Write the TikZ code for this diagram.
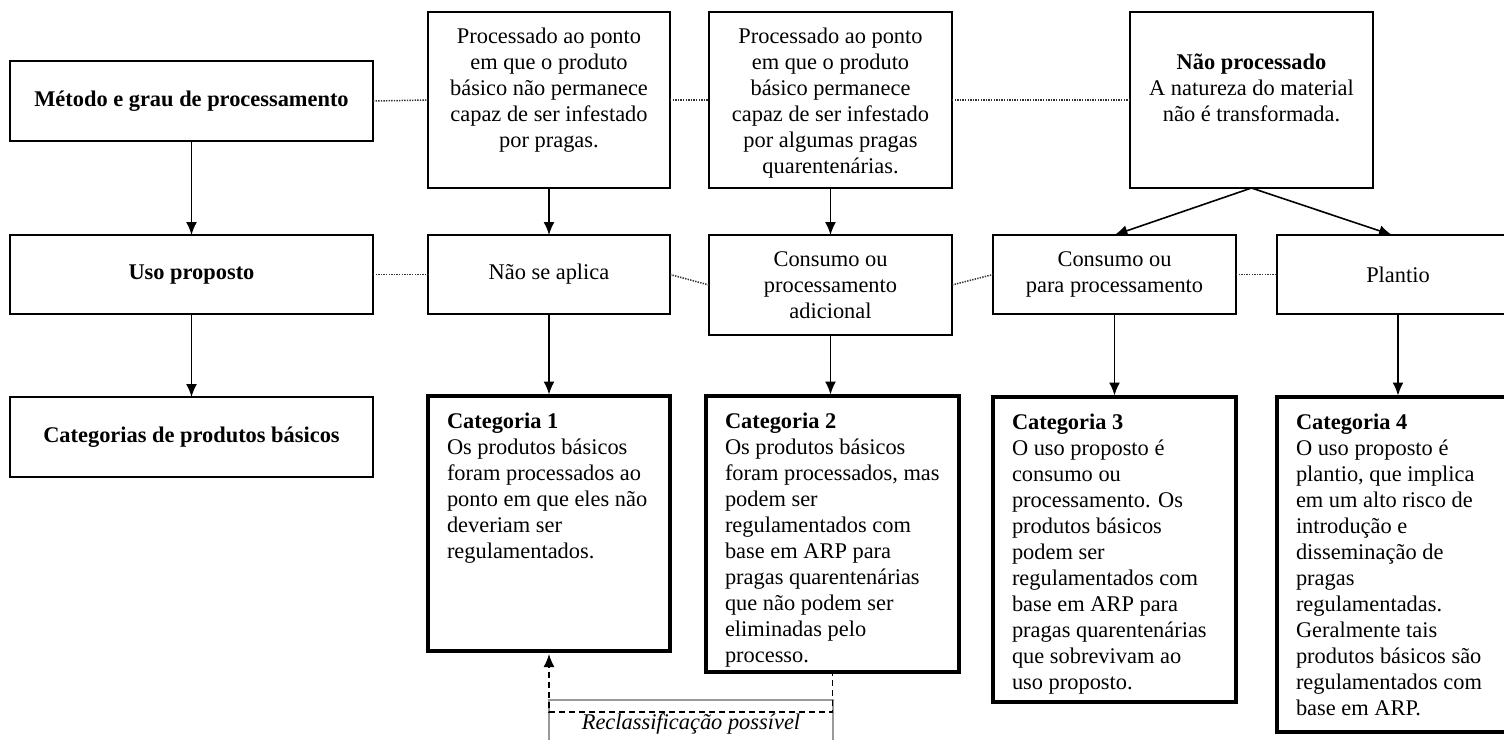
\documentclass[tikz,border=0pt]{standalone}
\usepackage{fontspec}
\setmainfont{Liberation Serif}
\usetikzlibrary{arrows.meta}
\newcommand{\cbx}[3]{\begin{minipage}[c][#2][c]{#1}\centering #3\end{minipage}}
\newcommand{\tbx}[4]{\begin{minipage}[t][#2][t]{#1}\vspace*{#3}\centering\strut #4\end{minipage}}
\newcommand{\kbx}[3]{\begin{minipage}[t][#2][t]{#1}\vspace*{14.3pt}\raggedright\leftskip=19pt\strut #3\end{minipage}}
\tikzset{
  box/.style={draw, line width=1.6pt, inner sep=0pt, outer sep=0pt, anchor=north west,
    font=\fontsize{22.4}{26}\selectfont},
  catbox/.style={box, line width=4pt},
  rcbox/.style={box, draw=black!40, line width=1.5pt},
  arr/.style={line width=1.6pt, -{Latex[length=13pt,width=11pt]}},
  dots/.style={line width=1.5pt, draw=black!80, dash pattern=on 1.4pt off 1.2pt},
  dsh/.style={line width=1.5pt, dash pattern=on 6pt off 4pt, -{Latex[length=13pt,width=11pt]}}
}
\begin{document}
\begin{tikzpicture}[x=1pt,y=-1pt]
\useasboundingbox (0,0) rectangle (1504,739);
\clip (0,0) rectangle (1504,739);
\fill[white] (0,0) rectangle (1504,739);
% row 1
\node[box] (metodo) at (10,61) {\cbx{363pt}{80pt}{\textbf{Método e grau de processamento}}};
\node[box] (p1) at (428,12) {\tbx{242pt}{176pt}{12.8pt}{Processado ao ponto\\em que o produto\\básico não permanece\\capaz de ser infestado\\por pragas.}};
\node[box] (p2) at (709,12) {\tbx{243pt}{176pt}{12.8pt}{Processado ao ponto\\em que o produto\\básico permanece\\capaz de ser infestado\\por algumas pragas\\quarentenárias.}};
\node[box] (np) at (1130,12) {\tbx{243pt}{176pt}{39.3pt}{\textbf{Não processado}\\A natureza do material\\não é transformada.}};
% row 2
\node[box] (uso) at (10,235) {\cbx{363pt}{79pt}{\textbf{Uso proposto}}};
\node[box] (nsa) at (428,235) {\cbx{242pt}{79pt}{Não se aplica}};
\node[box] (cad) at (709,235) {\cbx{243pt}{100pt}{Consumo ou\\processamento\\adicional}};
\node[box] (cpp) at (993,235) {\cbx{243pt}{79pt}{Consumo ou\\para processamento}};
\node[box] (plan) at (1277,235) {\cbx{242pt}{79pt}{Plantio}};
% row 3
\node[box] (cat) at (10,397) {\cbx{363pt}{80pt}{\textbf{Categorias de produtos básicos}}};
\node[catbox] (c1) at (428,396) {\kbx{242pt}{255pt}{\textbf{Categoria 1}\\Os produtos básicos\\foram processados ao\\ponto em que eles não\\deveriam ser\\regulamentados.}};
\node[catbox] (c2) at (706,396) {\kbx{253pt}{276pt}{\textbf{Categoria 2}\\Os produtos básicos\\foram processados, mas\\podem ser\\regulamentados com\\base em ARP para\\pragas quarentenárias\\que não podem ser\\eliminadas pelo\\processo.}};
\node[catbox] (c3) at (993,397) {\kbx{243pt}{305pt}{\textbf{Categoria 3}\\O uso proposto é\\consumo ou\\processamento. Os\\produtos básicos\\podem ser\\regulamentados com\\base em ARP para\\pragas quarentenárias\\que sobrevivam ao\\uso proposto.}};
\node[catbox] (c4) at (1277,397) {\kbx{242pt}{335pt}{\textbf{Categoria 4}\\O uso proposto é\\plantio, que implica\\em um alto risco de\\introdução e\\disseminação de\\pragas\\regulamentadas.\\Geralmente tais\\produtos básicos são\\regulamentados com\\base em ARP.}};
% reclassification box
\node[rcbox] (rc) at (549,700) {\tbx{284pt}{60pt}{11pt}{\textit{Reclassificação possível}}};
% dotted links
\draw[dots] (metodo.east) -- (p1.west);
\draw[dots] (p1.east) -- (p2.west);
\draw[dots] (p2.east) -- (np.west);
\draw[dots] (uso.east) -- (nsa.west);
\draw[dots] (nsa.east) -- (cad.west);
\draw[dots] (cad.east) -- (cpp.west);
\draw[dots] (cpp.east) -- (plan.west);
% arrows
\draw[arr] (metodo.south) -- (uso.north);
\draw[arr] (uso.south) -- (cat.north);
\draw[arr] (p1.south) -- (nsa.north);
\draw[arr, shorten >=1.5pt] (nsa.south) -- (c1.north);
\draw[arr] (p2.south) -- (cad.north);
\draw[arr, shorten >=1.5pt] (cad.south) -- (cad.south |- c2.north);
\draw[arr] (np.south) -- (cpp.north);
\draw[arr] (np.south) -- ([xshift=-6pt]plan.north);
\draw[arr, shorten >=1.5pt] (cpp.south) -- (c3.north);
\draw[arr, shorten >=1.5pt] (plan.south) -- (c4.north);
% reclassification connector
\coordinate (rl) at (549,712);
\draw[dsh, shorten >=3pt] ([yshift=2pt]c2.south) |- (rl) -- (c1.south);
\end{tikzpicture}
\end{document}
